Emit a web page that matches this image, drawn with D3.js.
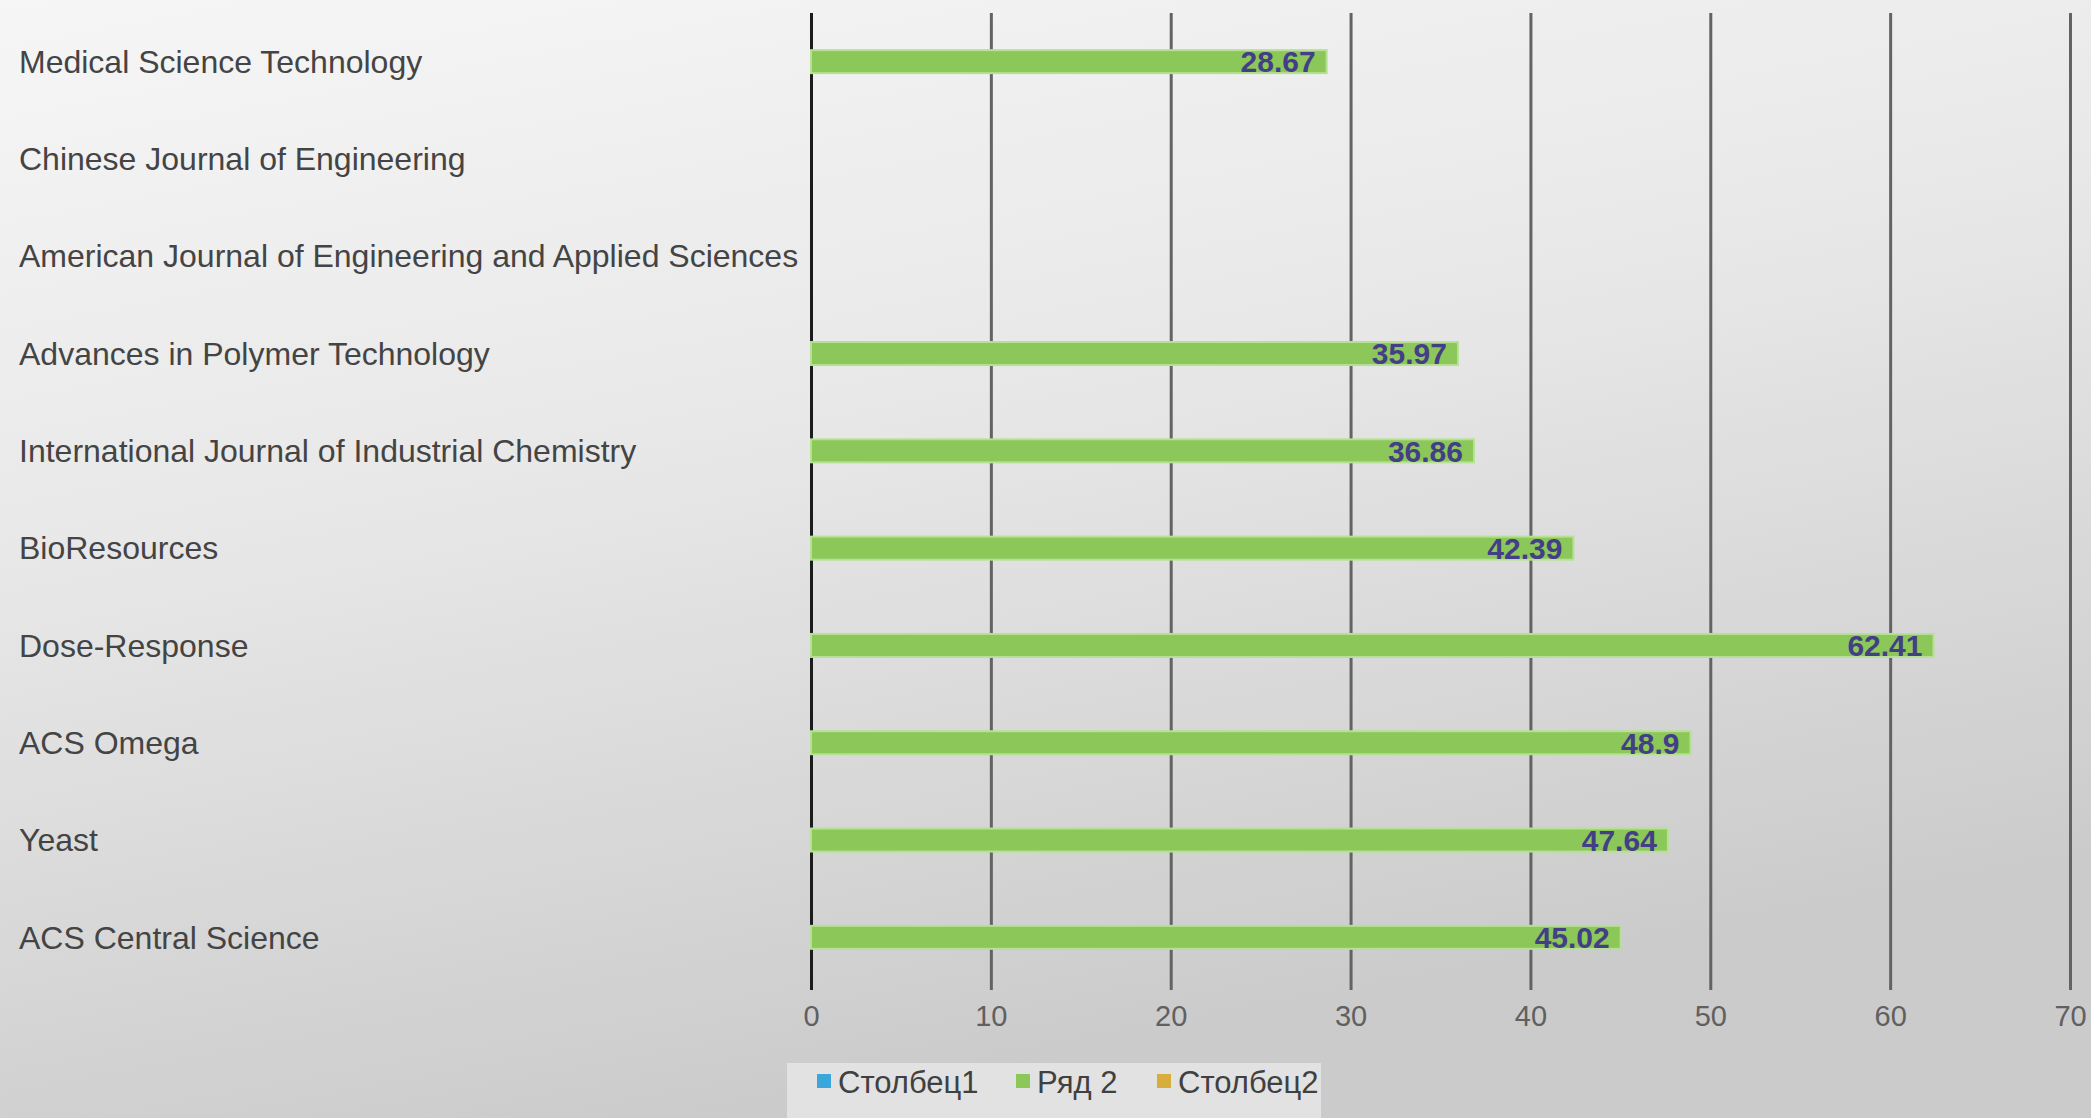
<!DOCTYPE html>
<html>
<head>
<meta charset="utf-8">
<script src="https://cdn.jsdelivr.net/npm/d3@7/dist/d3.min.js"></script>
<style>
  html, body { margin: 0; padding: 0; overflow: hidden; }
  svg { display: block; }
</style>
</head>
<body>
<svg id="chart" width="2091" height="1118"></svg>
<script>
// ---- data ----
const categories = [
  "Medical Science Technology",
  "Chinese Journal of Engineering",
  "American Journal of Engineering and Applied Sciences",
  "Advances in Polymer Technology",
  "International Journal of Industrial Chemistry",
  "BioResources",
  "Dose-Response",
  "ACS Omega",
  "Yeast",
  "ACS Central Science"
];
const seriesNames = ["Столбец1", "Ряд 2", "Столбец2"];
const seriesColors = ["#3aa6dc", "#8cc75a", "#d9ad3c"];
const stolbets1 = [null, null, null, null, null, null, null, null, null, null];
const ryad2 = [28.67, null, null, 35.97, 36.86, 42.39, 62.41, 48.9, 47.64, 45.02];
const stolbets2 = [null, null, null, null, null, null, null, null, null, null];
const xTicks = [0, 10, 20, 30, 40, 50, 60, 70];

// ---- layout ----
const W = 2091, H = 1118;
const plot = { left: 811, right: 2070, top: 13, bottom: 986 };
const svg = d3.select("#chart");

const defs = svg.append("defs");
const bg = defs.append("linearGradient").attr("id", "bg")
  .attr("x1", "0").attr("y1", "0").attr("x2", "0.35").attr("y2", "1");
bg.append("stop").attr("offset", "0%").attr("stop-color", "#f6f6f6");
bg.append("stop").attr("offset", "45%").attr("stop-color", "#e8e8e8");
bg.append("stop").attr("offset", "100%").attr("stop-color", "#cbcbcb");
svg.append("rect").attr("width", W).attr("height", H).attr("fill", "url(#bg)");

const x = d3.scaleLinear().domain([0, 70]).range([plot.left, plot.right]);
const y = d3.scaleBand().domain(categories).range([plot.top, plot.bottom]).padding(0);
const barH = 23;

// gridlines via axis
const axis = svg.append("g")
  .attr("transform", `translate(0,${plot.bottom + 4})`)
  .call(d3.axisBottom(x).tickValues(xTicks).tickSize(-(plot.bottom + 4 - plot.top)).tickPadding(0));
axis.select(".domain").remove();
axis.selectAll(".tick line")
  .attr("stroke", d => d === 0 ? "#1c1c1c" : "#636363")
  .attr("stroke-width", 3);
axis.selectAll(".tick text")
  .attr("y", 26).attr("dy", "0.35em")
  .attr("font-family", "'Liberation Sans', Arial, sans-serif")
  .attr("font-size", 29)
  .attr("fill", "#606060");

// category labels
svg.append("g").selectAll("text").data(categories).join("text")
  .attr("x", 19)
  .attr("y", d => y(d) + y.bandwidth() / 2)
  .attr("dy", "0.35em")
  .attr("font-family", "'Liberation Sans', Arial, sans-serif")
  .attr("font-size", 32)
  .attr("fill", "#444444")
  .text(d => d);

// bars (Ряд 2)
const barData = categories.map((c, i) => ({ c, v: ryad2[i] })).filter(d => d.v != null);
svg.append("g").selectAll("rect").data(barData).join("rect")
  .attr("x", x(0))
  .attr("y", d => y(d.c) + y.bandwidth() / 2 - barH / 2)
  .attr("width", d => x(d.v) - x(0))
  .attr("height", barH)
  .attr("fill", seriesColors[1])
  .attr("stroke", "#b6e093")
  .attr("stroke-width", 2);

// value labels
svg.append("g").selectAll("text").data(barData).join("text")
  .attr("x", d => x(d.v) - 11)
  .attr("y", d => y(d.c) + y.bandwidth() / 2)
  .attr("dy", "0.36em")
  .attr("text-anchor", "end")
  .attr("font-family", "'Liberation Sans', Arial, sans-serif")
  .attr("font-weight", "bold")
  .attr("font-size", 30)
  .attr("fill", "#433e86")
  .text(d => d.v);

// legend
const lg = svg.append("g");
lg.append("rect").attr("x", 787).attr("y", 1063).attr("width", 534).attr("height", 55)
  .attr("fill", "#e2e2e2");
const legendX = [817, 1016, 1157];
const items = lg.selectAll("g.item").data(seriesNames).join("g").attr("class", "item")
  .attr("transform", (d, i) => `translate(${legendX[i]},1082)`);
items.append("rect").attr("x", 0).attr("y", -8).attr("width", 14).attr("height", 14)
  .attr("fill", (d, i) => seriesColors[i]);
items.append("text").attr("x", 21).attr("dy", "0.35em")
  .attr("font-family", "'Liberation Sans', Arial, sans-serif")
  .attr("font-size", 31)
  .attr("fill", "#404040")
  .text(d => d);
</script>
</body>
</html>
